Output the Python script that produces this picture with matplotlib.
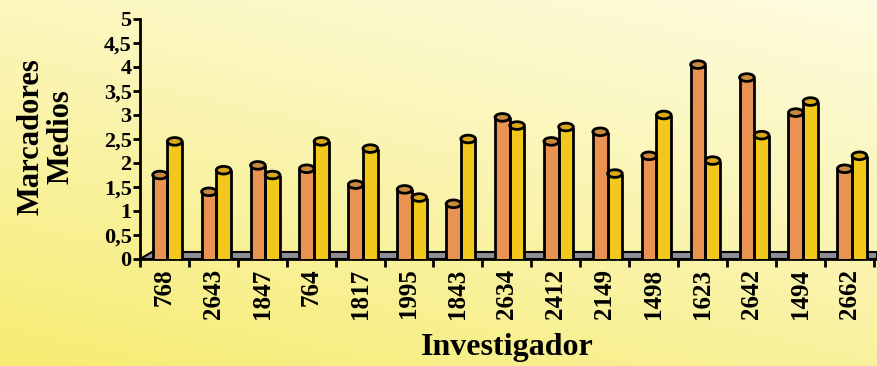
import numpy as np
import matplotlib
matplotlib.use("Agg")
import matplotlib.pyplot as plt
from matplotlib.patches import Ellipse, Arc, Polygon
from matplotlib.colors import LinearSegmentedColormap

investigadores = ["768", "2643", "1847", "764", "1817", "1995", "1843", "2634",
                  "2412", "2149", "1498", "1623", "2642", "1494", "2662"]
serie_naranja = [1.75, 1.40, 1.95, 1.88, 1.55, 1.45, 1.15, 2.95,
                 2.45, 2.65, 2.15, 4.05, 3.78, 3.05, 1.88]
serie_amarilla = [2.45, 1.85, 1.75, 2.45, 2.30, 1.28, 2.50, 2.78,
                  2.75, 1.78, 3.00, 2.05, 2.58, 3.28, 2.15]
y_ticks = [0, 0.5, 1, 1.5, 2, 2.5, 3, 3.5, 4, 4.5, 5]

plt.rcParams['font.family'] = ['Liberation Serif', 'DejaVu Serif']
plt.rcParams['font.weight'] = 'bold'

fig = plt.figure(figsize=(8.77, 3.66), dpi=100)

# fondo degradado amarillo
bg = fig.add_axes([0, 0, 1, 1], zorder=-10)
bg.set_axis_off()
gx, gy = np.meshgrid(np.linspace(0, 1, 200), np.linspace(0, 1, 200))
grad = np.clip(0.65 * gy + 0.35 * gx, 0, 1)
cmap_bg = LinearSegmentedColormap.from_list("fondo", ["#f6ec72", "#faf4ae", "#fefce0"])
bg.imshow(grad, cmap=cmap_bg, origin="lower", aspect="auto", extent=[0, 1, 0, 1])

ax = fig.add_axes([140 / 877, 107 / 366, 737 / 877, 240 / 366])
ax.patch.set_alpha(0)

n = len(investigadores)
x = np.arange(n)
ancho = 0.3
xlim = (-0.5, n - 0.5 + 0.07)
ax.set_xlim(*xlim)
ax.set_ylim(0, 5)

# piso gris en perspectiva
suelo = Polygon([(xlim[0], 0), (xlim[1], 0), (xlim[1], 0.14), (xlim[0] + 0.25, 0.14)],
                closed=True, facecolor="#8e8e94", edgecolor="black", lw=1.5, zorder=1)
ax.add_patch(suelo)

eh = 0.16  # alto de la elipse en unidades de datos


def cilindros(xs, vals, color, tapa):
    ax.bar(xs, vals, width=ancho, color=color, edgecolor="none", zorder=3)
    for xc, v in zip(xs, vals):
        ax.add_patch(Ellipse((xc, 0), ancho, eh, facecolor=color, edgecolor="none", zorder=3))
        ax.add_patch(Arc((xc, 0), ancho, eh, theta1=180, theta2=360, color="black", lw=2, zorder=4))
        ax.add_patch(Ellipse((xc, v), ancho, eh, facecolor=tapa, edgecolor="black", lw=2, zorder=4))
        ax.vlines([xc - ancho / 2, xc + ancho / 2], 0, v, colors="black", lw=2, zorder=4)


cilindros(x + 0.21, serie_amarilla, "#f2c81c", "#d9a818")
cilindros(x - 0.09, serie_naranja, "#e99352", "#c98a40")

ax.set_yticks(y_ticks)
ax.set_yticklabels([("%g" % t).replace(".", ",") for t in y_ticks], fontsize=16, fontweight="bold")
ax.set_xticks(np.arange(-0.5, n, 1.0))
ax.set_xticklabels([])
ax.set_xticks(x, minor=True)
ax.set_xticklabels(investigadores, minor=True, rotation=90, fontsize=18, fontweight="bold")
ax.tick_params(axis="x", which="major", direction="out", length=6, width=2)
ax.tick_params(axis="x", which="minor", length=0, pad=7)
ax.tick_params(axis="y", direction="out", length=5, width=2, pad=1)

for s in ["top", "right"]:
    ax.spines[s].set_visible(False)
for s in ["left", "bottom"]:
    ax.spines[s].set_linewidth(2)

fig.text(0.578, 0.05, "Investigador", ha="center", va="center", fontsize=23, fontweight="bold")
fig.text(0.052, 0.626, "Marcadores\nMedios", ha="center", va="center", rotation=90,
         fontsize=22, fontweight="bold", linespacing=1.05)

fig.savefig("out.png", dpi=100)
